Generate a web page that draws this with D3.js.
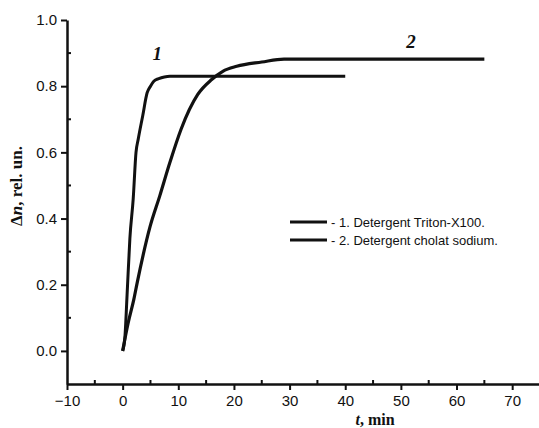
<!DOCTYPE html>
<html><head><meta charset="utf-8">
<script src="https://cdn.jsdelivr.net/npm/d3@7"></script>
<style>body{margin:0;background:#fff}svg{display:block}</style>
</head><body>
<svg id="c" width="539" height="428"></svg>
<script>
// Data
const series1Name = "- 1. Detergent Triton-X100.";
const series1T = [0, 0.4, 0.8, 1.3, 1.9, 2.4, 2.8, 3.6, 4.4, 5.0, 5.6, 6.5, 7.5, 8.5, 40];
const series1V = [0, 0.04, 0.17, 0.34, 0.46, 0.60, 0.64, 0.71, 0.78, 0.80, 0.815, 0.823, 0.828, 0.83, 0.83];
const series2Name = "- 2. Detergent cholat sodium.";
const series2T = [0, 1.0, 2.0, 2.6, 4.9, 6.7, 8.5, 10.5, 13.5, 16, 18, 20.5, 25, 29, 65];
const series2V = [0, 0.085, 0.155, 0.205, 0.374, 0.47, 0.57, 0.67, 0.775, 0.82, 0.845, 0.86, 0.873, 0.882, 0.882];
const xTicks = [-10, 0, 10, 20, 30, 40, 50, 60, 70];
const yTicks = [0.0, 0.2, 0.4, 0.6, 0.8, 1.0];
const xMinor = [-5, 5, 15, 25, 35, 45, 55, 65];
const yMinor = [0.1, 0.3, 0.5, 0.7, 0.9];
const curveLabels = [{t: 6.2, v: 0.88, text: "1"}, {t: 51.8, v: 0.915, text: "2"}];

const svg = d3.select("#c");
const x = d3.scaleLinear().domain([-10, 75]).range([67, 540]);
const y = d3.scaleLinear().domain([-0.1, 1.0]).range([384, 20]);
const ink = "#111";

// axes
const xAxis = d3.axisBottom(x).tickValues(xTicks).tickSize(6).tickSizeOuter(0)
  .tickFormat(d => d < 0 ? "\u2212" + Math.abs(d) : d);
const gx = svg.append("g").attr("transform", `translate(0,${y(-0.1)})`).call(xAxis);
const yAxis = d3.axisLeft(y).tickValues(yTicks).tickSize(6).tickSizeOuter(0)
  .tickFormat(d3.format(".1f"));
const gy = svg.append("g").attr("transform", `translate(${x(-10)},0)`).call(yAxis);
[gx, gy].forEach(g => {
  g.select(".domain").attr("stroke", ink).attr("stroke-width", 2.5);
  g.selectAll(".tick line").attr("stroke", ink).attr("stroke-width", 2);
  g.selectAll("text").attr("fill", ink).attr("font-family", "Liberation Sans, Arial, sans-serif").attr("font-size", 15);
});
gx.selectAll("text").attr("dy", "0.85em");
gy.selectAll("text").attr("dx", "-1px");
// minor ticks (inward)
svg.append("g").selectAll("line").data(xMinor).join("line")
  .attr("x1", d => x(d)).attr("x2", d => x(d))
  .attr("y1", y(-0.1)).attr("y2", y(-0.1) - 4)
  .attr("stroke", ink).attr("stroke-width", 2);
svg.append("g").selectAll("line").data(yMinor).join("line")
  .attr("x1", x(-10)).attr("x2", x(-10) + 4)
  .attr("y1", d => y(d)).attr("y2", d => y(d))
  .attr("stroke", ink).attr("stroke-width", 2);

// curves
const line = d3.line().x(d => x(d[0])).y(d => y(d[1])).curve(d3.curveMonotoneX);
const d1 = series1T.map((t, i) => [t, series1V[i]]);
const d2 = series2T.map((t, i) => [t, series2V[i]]);
svg.append("path").attr("d", line(d2)).attr("fill", "none").attr("stroke", ink).attr("stroke-width", 3.2);
svg.append("path").attr("d", line(d1)).attr("fill", "none").attr("stroke", ink).attr("stroke-width", 3);

// curve labels
svg.append("g").selectAll("text").data(curveLabels).join("text")
  .attr("x", d => x(d.t)).attr("y", d => y(d.v))
  .attr("text-anchor", "middle")
  .attr("font-family", "Liberation Serif, Times New Roman, serif")
  .attr("font-style", "italic").attr("font-weight", "bold").attr("font-size", 19)
  .attr("fill", ink).text(d => d.text);

// legend
const legend = [series1Name, series2Name];
const lg = svg.append("g");
legend.forEach((name, i) => {
  const yy = 222 + i * 18;
  lg.append("line").attr("x1", 290).attr("x2", 327).attr("y1", yy).attr("y2", yy)
    .attr("stroke", ink).attr("stroke-width", 3);
  lg.append("text").attr("x", 331).attr("y", yy).attr("dy", "0.35em")
    .attr("font-family", "Liberation Sans, Arial, sans-serif").attr("font-size", 13)
    .attr("fill", ink).text(name);
});

// axis titles
const xt = svg.append("text").attr("x", 375).attr("y", 425).attr("text-anchor", "middle")
  .attr("font-family", "Liberation Serif, Times New Roman, serif").attr("font-weight", "bold")
  .attr("font-size", 16).attr("fill", ink);
xt.append("tspan").attr("font-style", "italic").text("t");
xt.append("tspan").text(", min");
const yt = svg.append("text").attr("transform", "translate(22,186) rotate(-90)")
  .attr("text-anchor", "middle")
  .attr("font-family", "Liberation Serif, Times New Roman, serif").attr("font-weight", "bold")
  .attr("font-size", 17).attr("fill", ink);
yt.append("tspan").text("\u0394");
yt.append("tspan").attr("font-style", "italic").text("n");
yt.append("tspan").text(", rel. un.");
</script>
</body></html>
